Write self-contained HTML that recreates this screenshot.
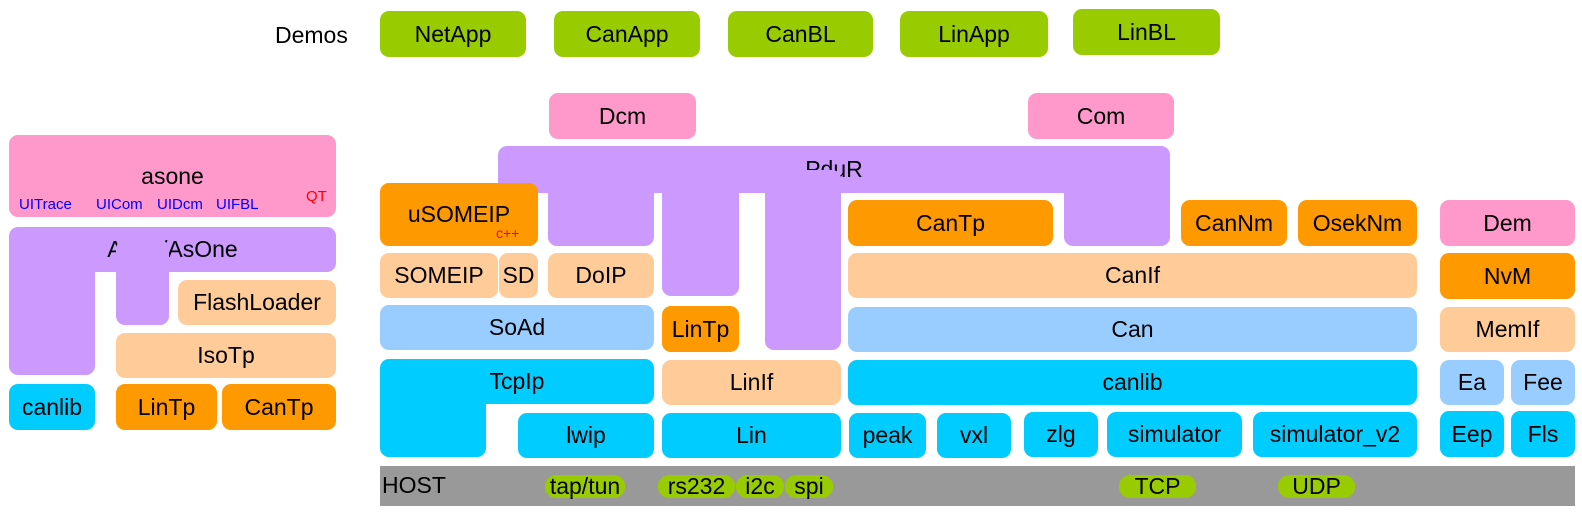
<!DOCTYPE html>
<html><head><meta charset="utf-8"><style>
body{margin:0;width:1582px;height:517px;background:#fff;position:relative;overflow:hidden;font-family:"Liberation Sans",sans-serif;}
.b{position:absolute;box-sizing:border-box;border-radius:9px;display:flex;align-items:center;justify-content:center;font-size:23px;color:#000;white-space:nowrap;}
.g{background:#99cc00}.p{background:#ff99cc}.v{background:#cc99ff}.o{background:#ff9900}.t{background:#ffcc99}.l{background:#99ccff}.c{background:#00ccff}
.pill{position:absolute;background:#99cc00;border-radius:11px;height:23px;top:475px;font-size:23px;line-height:23px;display:flex;align-items:center;justify-content:center;}
.s{position:absolute;font-size:15px;color:#0000ff;}
</style></head><body>
<div style="position:absolute;left:275px;top:22px;font-size:23px;">Demos</div>
<div class="b g" style="left:380px;top:11px;width:146px;height:46px">NetApp</div>
<div class="b g" style="left:554px;top:11px;width:146px;height:46px">CanApp</div>
<div class="b g" style="left:728px;top:11px;width:145px;height:46px">CanBL</div>
<div class="b g" style="left:900px;top:11px;width:148px;height:46px">LinApp</div>
<div class="b g" style="left:1073px;top:9px;width:147px;height:46px">LinBL</div>
<div class="b p" style="left:549px;top:93px;width:147px;height:46px">Dcm</div>
<div class="b p" style="left:1028px;top:93px;width:146px;height:46px">Com</div>

<!-- left -->
<div class="b p" style="left:9px;top:135px;width:327px;height:82px;align-items:flex-start;padding-top:28px">asone</div>
<div class="s" style="left:19px;top:196px">UITrace</div>
<div class="s" style="left:96px;top:196px">UICom</div>
<div class="s" style="left:157px;top:196px">UIDcm</div>
<div class="s" style="left:216px;top:196px">UIFBL</div>
<div class="s" style="left:306px;top:188px;color:#ff0000">QT</div>
<div class="b v" style="left:9px;top:227px;width:327px;height:45px">AsPy/AsOne</div>
<div class="b v" style="left:9px;top:240px;width:86px;height:135px"></div>
<div class="b v" style="left:116px;top:240px;width:53px;height:85px"></div>
<div class="b t" style="left:178px;top:280px;width:158px;height:45px">FlashLoader</div>
<div class="b t" style="left:116px;top:333px;width:220px;height:45px">IsoTp</div>
<div class="b c" style="left:9px;top:384px;width:86px;height:46px">canlib</div>
<div class="b o" style="left:116px;top:384px;width:101px;height:46px">LinTp</div>
<div class="b o" style="left:222px;top:384px;width:114px;height:46px">CanTp</div>

<!-- PduR -->
<div class="b v" style="left:498px;top:146px;width:672px;height:47px">PduR</div>
<div class="b v" style="left:548px;top:170px;width:106px;height:76px"></div>
<div class="b v" style="left:662px;top:170px;width:77px;height:126px"></div>
<div class="b v" style="left:765px;top:170px;width:76px;height:180px"></div>
<div class="b v" style="left:1064px;top:170px;width:106px;height:76px"></div>
<div style="position:absolute;left:548px;top:193px;width:0;height:0"></div>

<div class="b o" style="left:380px;top:183px;width:158px;height:63px">uSOMEIP</div>
<div style="position:absolute;left:496px;top:225px;font-size:14px;color:#ff0000">c++</div>
<div class="b t" style="left:380px;top:253px;width:118px;height:45px">SOMEIP</div>
<div class="b t" style="left:499px;top:253px;width:39px;height:45px">SD</div>
<div class="b t" style="left:548px;top:253px;width:106px;height:45px">DoIP</div>
<div class="b l" style="left:380px;top:305px;width:274px;height:45px">SoAd</div>
<div class="b c" style="left:380px;top:359px;width:274px;height:45px">TcpIp</div>
<div class="b c" style="left:380px;top:380px;width:106px;height:77px"></div>
<div class="b c" style="left:518px;top:413px;width:136px;height:45px">lwip</div>
<div class="b o" style="left:662px;top:306px;width:77px;height:46px">LinTp</div>
<div class="b t" style="left:662px;top:360px;width:179px;height:45px">LinIf</div>
<div class="b c" style="left:662px;top:413px;width:179px;height:45px">Lin</div>

<div class="b o" style="left:848px;top:200px;width:205px;height:46px">CanTp</div>
<div class="b o" style="left:1181px;top:200px;width:106px;height:46px">CanNm</div>
<div class="b o" style="left:1298px;top:200px;width:119px;height:46px">OsekNm</div>
<div class="b t" style="left:848px;top:253px;width:569px;height:45px">CanIf</div>
<div class="b l" style="left:848px;top:307px;width:569px;height:45px">Can</div>
<div class="b c" style="left:848px;top:360px;width:569px;height:45px">canlib</div>
<div class="b c" style="left:849px;top:413px;width:77px;height:45px">peak</div>
<div class="b c" style="left:937px;top:413px;width:74px;height:45px">vxl</div>
<div class="b c" style="left:1024px;top:412px;width:74px;height:45px">zlg</div>
<div class="b c" style="left:1107px;top:412px;width:135px;height:45px">simulator</div>
<div class="b c" style="left:1253px;top:412px;width:164px;height:45px">simulator_v2</div>

<div class="b p" style="left:1440px;top:200px;width:135px;height:46px">Dem</div>
<div class="b o" style="left:1440px;top:253px;width:135px;height:46px">NvM</div>
<div class="b t" style="left:1440px;top:307px;width:135px;height:45px">MemIf</div>
<div class="b l" style="left:1440px;top:360px;width:64px;height:45px">Ea</div>
<div class="b l" style="left:1511px;top:360px;width:64px;height:45px">Fee</div>
<div class="b c" style="left:1440px;top:411px;width:64px;height:46px">Eep</div>
<div class="b c" style="left:1511px;top:411px;width:64px;height:46px">Fls</div>

<div style="position:absolute;left:380px;top:466px;width:1195px;height:40px;background:#999999"></div>
<div style="position:absolute;left:382px;top:472px;font-size:23px">HOST</div>
<div class="pill" style="left:545px;width:80px">tap/tun</div>
<div class="pill" style="left:658px;width:77px">rs232</div>
<div class="pill" style="left:736px;width:48px">i2c</div>
<div class="pill" style="left:785px;width:48px">spi</div>
<div class="pill" style="left:1119px;width:77px">TCP</div>
<div class="pill" style="left:1278px;width:77px">UDP</div>
</body></html>
